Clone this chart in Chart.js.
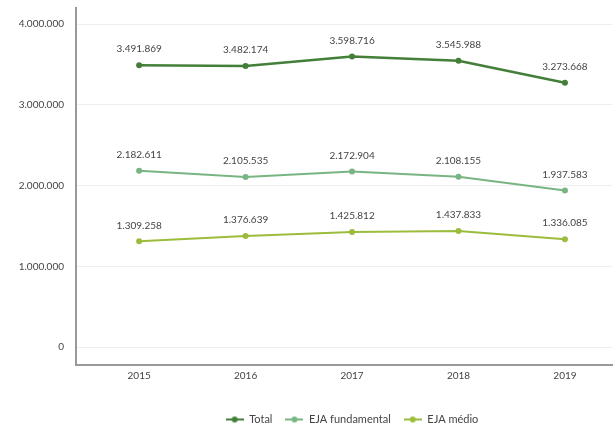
<!DOCTYPE html>
<html><head><meta charset="utf-8">
<script src="https://cdn.jsdelivr.net/npm/chart.js@4"></script>
<style>html,body{margin:0;padding:0;background:#fff;}canvas{display:block;}</style>
</head><body>
<canvas id="c" width="616" height="429"></canvas>
<script>
const years = [2015, 2016, 2017, 2018, 2019];
const seriesNames = ['Total', 'EJA fundamental', 'EJA médio'];
const total = [3491869, 3482174, 3598716, 3545988, 3273668];
const ejaFundamental = [2182611, 2105535, 2172904, 2108155, 1937583];
const ejaMedio = [1309258, 1376639, 1425812, 1437833, 1336085];
const yTicks = [0, 1000000, 2000000, 3000000, 4000000];
const colors = ['#437f38', '#78b582', '#9cbc3c'];

function fmt(v){ return String(v).replace(/\B(?=(\d{3})+(?!\d))/g, '.'); }

function marker(color){
  const c = document.createElement('canvas');
  c.width = 18; c.height = 8;
  const g = c.getContext('2d');
  g.strokeStyle = color; g.lineWidth = 2;
  g.beginPath(); g.moveTo(0,4); g.lineTo(18,4); g.stroke();
  g.fillStyle = color; g.beginPath(); g.arc(9,4,3,0,Math.PI*2); g.fill();
  return c;
}

const seriesData = [total, ejaFundamental, ejaMedio];
const datasets = seriesData.map((arr, i) => ({
  label: seriesNames[i],
  data: arr.map((v, j) => ({x: years[j], y: v})),
  borderColor: colors[i],
  backgroundColor: colors[i],
  borderWidth: i === 0 ? 2.5 : 2,
  pointRadius: 3,
  pointBackgroundColor: colors[i],
  pointBorderWidth: 0,
  pointStyle: 'circle',
  _legendMarker: marker(colors[i]),
  tension: 0
}));

const labelPlugin = {
  id: 'vlabels',
  afterLayout(chart){
    if (chart.legend) { chart.legend.left += 8; chart.legend.right += 8; }
  },
  afterDatasetsDraw(chart){
    const ctx = chart.ctx;
    ctx.save();
    ctx.font = '10px Lato';
    ctx.fillStyle = '#444';
    ctx.textAlign = 'center';
    ctx.textBaseline = 'middle';
    chart.data.datasets.forEach((ds, i) => {
      const meta = chart.getDatasetMeta(i);
      meta.data.forEach((pt, j) => {
        ctx.fillText(fmt(ds.data[j].y), pt.x, pt.y - 16);
      });
    });
    ctx.restore();
  }
};

new Chart(document.getElementById('c'), {
  type: 'line',
  data: { datasets },
  options: {
    responsive: false,
    animation: false,
    layout: { padding: { top: 8, right: 0, left: 0, bottom: -6 } },
    plugins: {
      tooltip: { enabled: false },
      legend: {
        position: 'bottom',
        fullSize: false,
        labels: {
          font: { family: 'Lato', size: 11 },
          color: '#444',
          padding: 13,
          usePointStyle: true,
          pointStyleWidth: 18,
          generateLabels(chart){
            return chart.data.datasets.map((d, i) => ({
              text: d.label,
              pointStyle: d._legendMarker,
              fillStyle: d.borderColor,
              strokeStyle: d.borderColor,
              lineWidth: 0,
              fontColor: '#444',
              datasetIndex: i,
              hidden: false
            }));
          }
        }
      }
    },
    scales: {
      x: {
        type: 'linear',
        min: 2014.407,
        max: 2019.442,
        afterBuildTicks(scale){ scale.ticks = years.map(v => ({value: v})); },
        afterFit(scale){ scale.height = 36; scale.paddingLeft = 0; scale.paddingRight = 0; },
        grid: { display: false, drawTicks: false },
        border: { display: true, color: '#999', width: 2 },
        ticks: { font: { family: 'Lato', size: 10 }, color: '#444', padding: 5, callback: v => String(v) }
      },
      y: {
        min: -223000,
        max: 4200000,
        afterBuildTicks(scale){ scale.ticks = yTicks.map(v => ({value: v})); },
        afterFit(scale){ scale.width = 76; scale.paddingTop = 0; scale.paddingBottom = 0; },
        grid: { color: '#eeeeee', lineWidth: 1, drawTicks: false },
        border: { display: true, color: '#999', width: 2 },
        ticks: { font: { family: 'Lato', size: 10 }, color: '#444', padding: 12, callback: v => fmt(v) }
      }
    }
  },
  plugins: [labelPlugin]
});
</script>
</body></html>
